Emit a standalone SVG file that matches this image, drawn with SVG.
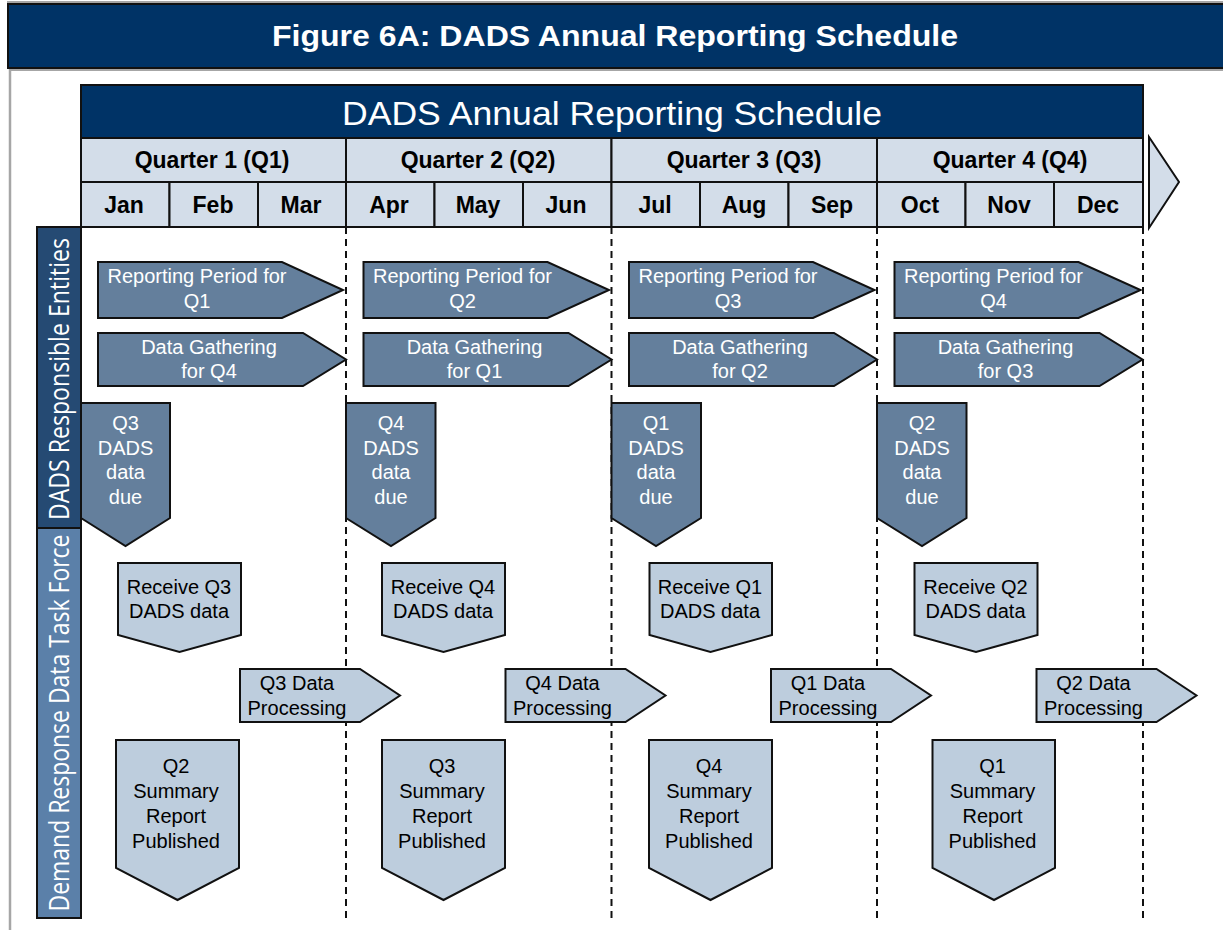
<svg xmlns="http://www.w3.org/2000/svg" width="1223" height="930" viewBox="0 0 1223 930">
<style>
  .hdr{fill:#d3dde9;stroke:#111;stroke-width:2}
  .hb{font-family:"Liberation Sans",Arial,sans-serif;font-weight:bold;font-size:23px;fill:#000;text-anchor:middle}
  .dk{fill:#647f9c;stroke:#111;stroke-width:2;stroke-linejoin:miter}
  .lt{fill:#bdcddd;stroke:#111;stroke-width:2;stroke-linejoin:miter}
  .tw{font-family:"Liberation Sans",Arial,sans-serif;font-size:20px;fill:#fff;text-anchor:middle}
  .tb{font-family:"Liberation Sans",Arial,sans-serif;font-size:20px;fill:#000;text-anchor:middle}
  .lane{font-family:"Open Sans","Liberation Sans",sans-serif;font-size:28px;fill:#fff;text-anchor:middle}
  .dash{stroke:#111;stroke-width:2;stroke-dasharray:7 5;fill:none}
</style>
<rect x="0" y="0" width="1223" height="930" fill="#fff"/>
<!-- frame -->
<g id="frame">
  <line x1="7" y1="2" x2="1223" y2="2" stroke="#a6a6a6" stroke-width="2"/>
  <line x1="10" y1="68" x2="10" y2="930" stroke="#a6a6a6" stroke-width="2.5"/>
  <line x1="10" y1="70" x2="1223" y2="70" stroke="#a6a6a6" stroke-width="2"/>
</g>
<g id="banner">
  <rect x="8" y="4" width="1220" height="64" fill="#003366" stroke="#111" stroke-width="2"/>
  <text x="615" y="46" font-family="Liberation Sans,Arial,sans-serif" font-weight="bold" font-size="30" fill="#fff" text-anchor="middle" textLength="686" lengthAdjust="spacingAndGlyphs">Figure 6A: DADS Annual Reporting Schedule</text>
</g>
<!-- dashed quarter lines -->
<g id="connectors">
  <line class="dash" x1="346" y1="227" x2="346" y2="918"/>
  <line class="dash" x1="611.5" y1="227" x2="611.5" y2="918"/>
  <line class="dash" x1="877" y1="227" x2="877" y2="918"/>
  <line class="dash" x1="1143" y1="227" x2="1143" y2="918"/>
</g>
<!-- header table -->
<g id="header">
  <rect x="81" y="85" width="1062" height="53" fill="#003366" stroke="#111" stroke-width="2"/>
  <text x="612" y="125" font-family="Liberation Sans,Arial,sans-serif" font-size="33" fill="#fff" text-anchor="middle" textLength="540" lengthAdjust="spacingAndGlyphs">DADS Annual Reporting Schedule</text>
  <rect class="hdr" x="81" y="138" width="265" height="44"/>
  <rect class="hdr" x="346" y="138" width="265.5" height="44"/>
  <rect class="hdr" x="611.5" y="138" width="265.5" height="44"/>
  <rect class="hdr" x="877" y="138" width="266" height="44"/>
  <text class="hb" x="212" y="168">Quarter 1 (Q1)</text>
  <text class="hb" x="478" y="168">Quarter 2 (Q2)</text>
  <text class="hb" x="744" y="168">Quarter 3 (Q3)</text>
  <text class="hb" x="1010" y="168">Quarter 4 (Q4)</text>
  <rect class="hdr" x="81" y="182" width="88.5" height="45"/>
  <rect class="hdr" x="169.5" y="182" width="88.5" height="45"/>
  <rect class="hdr" x="258" y="182" width="88" height="45"/>
  <rect class="hdr" x="346" y="182" width="88.5" height="45"/>
  <rect class="hdr" x="434.5" y="182" width="88.5" height="45"/>
  <rect class="hdr" x="523" y="182" width="88.5" height="45"/>
  <rect class="hdr" x="611.5" y="182" width="88.5" height="45"/>
  <rect class="hdr" x="700" y="182" width="88.5" height="45"/>
  <rect class="hdr" x="788.5" y="182" width="88.5" height="45"/>
  <rect class="hdr" x="877" y="182" width="88.5" height="45"/>
  <rect class="hdr" x="965.5" y="182" width="88.5" height="45"/>
  <rect class="hdr" x="1054" y="182" width="89" height="45"/>
  <text class="hb" x="124" y="213">Jan</text>
  <text class="hb" x="213" y="213">Feb</text>
  <text class="hb" x="301" y="213">Mar</text>
  <text class="hb" x="389" y="213">Apr</text>
  <text class="hb" x="478" y="213">May</text>
  <text class="hb" x="566" y="213">Jun</text>
  <text class="hb" x="655" y="213">Jul</text>
  <text class="hb" x="744" y="213">Aug</text>
  <text class="hb" x="832" y="213">Sep</text>
  <text class="hb" x="920" y="213">Oct</text>
  <text class="hb" x="1009" y="213">Nov</text>
  <text class="hb" x="1098" y="213">Dec</text>
  <polygon points="1149,137 1179,182 1149,228" fill="#d3dde9" stroke="#111" stroke-width="2"/>
</g>
<!-- lane labels -->
<g id="lane-entities">
  <rect x="37" y="227" width="44" height="301" fill="#254a73" stroke="#111" stroke-width="2"/>
  <text class="lane" transform="translate(59,379) rotate(-90)" x="0" y="10" textLength="282" lengthAdjust="spacingAndGlyphs">DADS Responsible Entities</text>
</g>
<g id="lane-taskforce">
  <rect x="37" y="528" width="44" height="390" fill="#5b80a9" stroke="#111" stroke-width="2"/>
  <text class="lane" transform="translate(59,723) rotate(-90)" x="0" y="10" textLength="377" lengthAdjust="spacingAndGlyphs">Demand Response Data Task Force</text>
</g>
<!-- Reporting period -->
<g id="rp-q1"><polygon class="dk" points="98,262 282,262 343,290 282,318 98,318"/>
  <text class="tw" x="197" y="283">Reporting Period for</text><text class="tw" x="197" y="308">Q1</text></g>
<g id="rp-q2"><polygon class="dk" points="363.5,262 547.5,262 609,290 547.5,318 363.5,318"/>
  <text class="tw" x="462.5" y="283">Reporting Period for</text><text class="tw" x="462.5" y="308">Q2</text></g>
<g id="rp-q3"><polygon class="dk" points="629,262 813,262 874.5,290 813,318 629,318"/>
  <text class="tw" x="728" y="283">Reporting Period for</text><text class="tw" x="728" y="308">Q3</text></g>
<g id="rp-q4"><polygon class="dk" points="894.5,262 1078.5,262 1140.5,290 1078.5,318 894.5,318"/>
  <text class="tw" x="993.5" y="283">Reporting Period for</text><text class="tw" x="993.5" y="308">Q4</text></g>
<!-- Data gathering -->
<g id="dg-q4"><polygon class="dk" points="98,333 303,333 346,359.5 303,386 98,386"/>
  <text class="tw" x="209" y="354">Data Gathering</text><text class="tw" x="209" y="378">for Q4</text></g>
<g id="dg-q1"><polygon class="dk" points="363.5,333 568.5,333 611.5,359.5 568.5,386 363.5,386"/>
  <text class="tw" x="474.5" y="354">Data Gathering</text><text class="tw" x="474.5" y="378">for Q1</text></g>
<g id="dg-q2"><polygon class="dk" points="629,333 834,333 877,359.5 834,386 629,386"/>
  <text class="tw" x="740" y="354">Data Gathering</text><text class="tw" x="740" y="378">for Q2</text></g>
<g id="dg-q3"><polygon class="dk" points="894.5,333 1099.5,333 1142.5,359.5 1099.5,386 894.5,386"/>
  <text class="tw" x="1005.5" y="354">Data Gathering</text><text class="tw" x="1005.5" y="378">for Q3</text></g>
<!-- Data due -->
<g id="dd-q3"><polygon class="dk" points="81,403 170,403 170,518 125.5,546 81,518"/>
  <text class="tw" x="125.5" y="430">Q3</text><text class="tw" x="125.5" y="454.5">DADS</text><text class="tw" x="125.5" y="479">data</text><text class="tw" x="125.5" y="503.5">due</text></g>
<g id="dd-q4"><polygon class="dk" points="346,403 435.5,403 435.5,518 391,546 346,518"/>
  <text class="tw" x="391" y="430">Q4</text><text class="tw" x="391" y="454.5">DADS</text><text class="tw" x="391" y="479">data</text><text class="tw" x="391" y="503.5">due</text></g>
<g id="dd-q1"><polygon class="dk" points="611.5,403 701,403 701,518 656,546 611.5,518"/>
  <text class="tw" x="656" y="430">Q1</text><text class="tw" x="656" y="454.5">DADS</text><text class="tw" x="656" y="479">data</text><text class="tw" x="656" y="503.5">due</text></g>
<g id="dd-q2"><polygon class="dk" points="877,403 966.5,403 966.5,518 922,546 877,518"/>
  <text class="tw" x="922" y="430">Q2</text><text class="tw" x="922" y="454.5">DADS</text><text class="tw" x="922" y="479">data</text><text class="tw" x="922" y="503.5">due</text></g>
<!-- Receive -->
<g id="rx-q3"><polygon class="lt" points="118,563 241,563 241,635 179.5,652 118,635"/>
  <text class="tb" x="179" y="594">Receive Q3</text><text class="tb" x="179" y="618">DADS data</text></g>
<g id="rx-q4"><polygon class="lt" points="382,563 505,563 505,635 443.5,652 382,635"/>
  <text class="tb" x="443" y="594">Receive Q4</text><text class="tb" x="443" y="618">DADS data</text></g>
<g id="rx-q1"><polygon class="lt" points="649.5,563 772,563 772,635 710.5,652 649.5,635"/>
  <text class="tb" x="710" y="594">Receive Q1</text><text class="tb" x="710" y="618">DADS data</text></g>
<g id="rx-q2"><polygon class="lt" points="914.5,563 1037.5,563 1037.5,635 976,652 914.5,635"/>
  <text class="tb" x="975.5" y="594">Receive Q2</text><text class="tb" x="975.5" y="618">DADS data</text></g>
<!-- Processing -->
<g id="dp-q3"><polygon class="lt" points="240,669 360,669 400,695.5 360,722 240,722"/>
  <text class="tb" x="297" y="690">Q3 Data</text><text class="tb" x="297" y="715">Processing</text></g>
<g id="dp-q4"><polygon class="lt" points="505.5,669 625.5,669 665.5,695.5 625.5,722 505.5,722"/>
  <text class="tb" x="562.5" y="690">Q4 Data</text><text class="tb" x="562.5" y="715">Processing</text></g>
<g id="dp-q1"><polygon class="lt" points="771,669 891,669 931,695.5 891,722 771,722"/>
  <text class="tb" x="828" y="690">Q1 Data</text><text class="tb" x="828" y="715">Processing</text></g>
<g id="dp-q2"><polygon class="lt" points="1036.5,669 1156.5,669 1196.5,695.5 1156.5,722 1036.5,722"/>
  <text class="tb" x="1093.5" y="690">Q2 Data</text><text class="tb" x="1093.5" y="715">Processing</text></g>
<!-- Summary -->
<g id="sr-q2"><polygon class="lt" points="116,740 239,740 239,868 177.5,900 116,868"/>
  <text class="tb" x="176" y="773">Q2</text><text class="tb" x="176" y="798">Summary</text><text class="tb" x="176" y="823">Report</text><text class="tb" x="176" y="848">Published</text></g>
<g id="sr-q3"><polygon class="lt" points="382,740 505,740 505,868 443.5,900 382,868"/>
  <text class="tb" x="442" y="773">Q3</text><text class="tb" x="442" y="798">Summary</text><text class="tb" x="442" y="823">Report</text><text class="tb" x="442" y="848">Published</text></g>
<g id="sr-q4"><polygon class="lt" points="649,740 772,740 772,868 710.5,900 649,868"/>
  <text class="tb" x="709" y="773">Q4</text><text class="tb" x="709" y="798">Summary</text><text class="tb" x="709" y="823">Report</text><text class="tb" x="709" y="848">Published</text></g>
<g id="sr-q1"><polygon class="lt" points="932.5,740 1055,740 1055,868 994,900 932.5,868"/>
  <text class="tb" x="992.5" y="773">Q1</text><text class="tb" x="992.5" y="798">Summary</text><text class="tb" x="992.5" y="823">Report</text><text class="tb" x="992.5" y="848">Published</text></g>
</svg>
